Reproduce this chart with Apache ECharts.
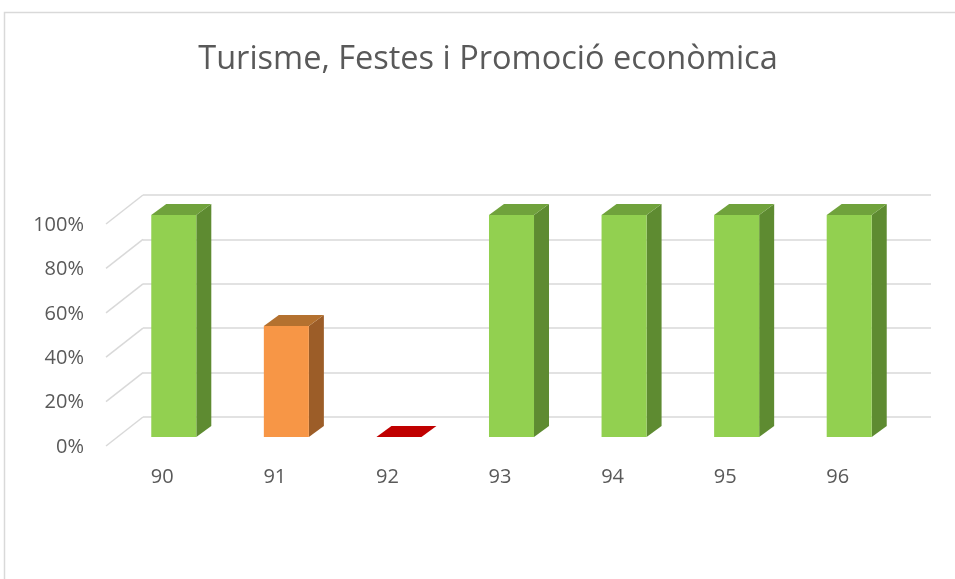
<!DOCTYPE html>
<html><head><meta charset="utf-8">
<script src="https://cdn.jsdelivr.net/npm/echarts@6/dist/echarts.min.js"></script>
<style>html,body{margin:0;padding:0;background:#fff}#c{width:955px;height:579px}</style>
</head><body><div id="c"></div>
<script>
const chartTitle = 'Turisme, Festes i Promoció econòmica';
const categories = ['90', '91', '92', '93', '94', '95', '96'];
const values = [1, 0.5, 0, 1, 1, 1, 1];
const yTicks = [0, 0.2, 0.4, 0.6, 0.8, 1];

const FONT = "'Open Sans', 'Liberation Sans', sans-serif";
const TXT = '#595959';
const GRIDC = '#D9D9D9';

function palette(v) {
  if (v >= 1) return { front: '#92D050', side: '#5E8B31', top: '#70A23C' };
  if (v > 0) return { front: '#F79646', side: '#9C5D28', top: '#B4712F' };
  return { front: '#C00000', side: '#900000', top: '#C00000' };
}

function renderBar(params, api) {
  const i = api.value(0), v = api.value(1);
  const p = api.coord([i, v]);
  const p0 = api.coord([i, 0]);
  const bw = api.size([1, 0])[0] * 0.4;
  const cx = p[0] - 25.5;
  const top = p[1] + 20, bot = p0[1] + 20;
  const l = cx - bw / 2, r = cx + bw / 2;
  const dx = 15, dy = -11;
  const c = palette(v);
  const children = [];
  if (bot - top > 0.5) {
    children.push({ type: 'polygon', shape: { points: [[r, top], [r + dx, top + dy], [r + dx, bot + dy], [r, bot]] }, style: { fill: c.side } });
    children.push({ type: 'rect', shape: { x: l, y: top, width: bw, height: bot - top }, style: { fill: c.front } });
  }
  children.push({ type: 'polygon', shape: { points: [[l, top], [l + dx, top + dy], [r + dx, top + dy], [r, top]] }, style: { fill: c.top } });
  return { type: 'group', children };
}

function renderDiag(params, api) {
  const v = api.value(1);
  const y = api.coord([0, v])[1];
  const x = params.coordSys.x;
  return { type: 'line', shape: { x1: x, y1: y, x2: x - 37, y2: y + 29 }, style: { stroke: GRIDC, lineWidth: 1.5 } };
}

const chart = echarts.init(document.getElementById('c'));
chart.setOption({
  animation: false,
  backgroundColor: '#fff',
  title: {
    text: chartTitle, left: 483, textAlign: 'center', top: 38,
    textStyle: { fontFamily: FONT, fontSize: 32.5, fontWeight: 'normal', color: TXT }
  },
  graphic: [{
    type: 'rect', left: 2, top: 10, silent: true,
    shape: { width: 1000, height: 700 },
    style: { fill: null, stroke: GRIDC, lineWidth: 1.5 }
  }],
  grid: [
    { left: 143, right: 24, top: 195, bottom: 162 },
    { left: 106, right: 61, top: 225, bottom: 132 }
  ],
  xAxis: [
    { gridIndex: 0, type: 'category', data: categories, axisLine: { show: false }, axisTick: { show: false }, axisLabel: { show: false } },
    { gridIndex: 1, type: 'category', data: categories, axisLine: { show: false }, axisTick: { show: false },
      axisLabel: { margin: 20, fontFamily: FONT, fontSize: 20, color: TXT } }
  ],
  yAxis: [
    { gridIndex: 0, type: 'value', min: 0, max: 1, interval: 0.2, axisLabel: { show: false },
      axisLine: { show: false }, axisTick: { show: false },
      splitLine: { lineStyle: { color: GRIDC, width: 1.5 } } },
    { gridIndex: 1, type: 'value', min: 0, max: 1, interval: 0.2,
      axisLine: { show: false }, axisTick: { show: false }, splitLine: { show: false },
      axisLabel: { margin: 22, fontFamily: FONT, fontSize: 20, color: TXT, formatter: v => Math.round(v * 100) + '%' } }
  ],
  series: [
    { type: 'custom', xAxisIndex: 0, yAxisIndex: 0, clip: false, z: 2,
      data: yTicks.map(t => [0, t]), renderItem: renderDiag },
    { type: 'custom', xAxisIndex: 0, yAxisIndex: 0, clip: false, z: 3,
      data: values.map((v, i) => [i, v]), renderItem: renderBar }
  ]
});
</script>
</body></html>
